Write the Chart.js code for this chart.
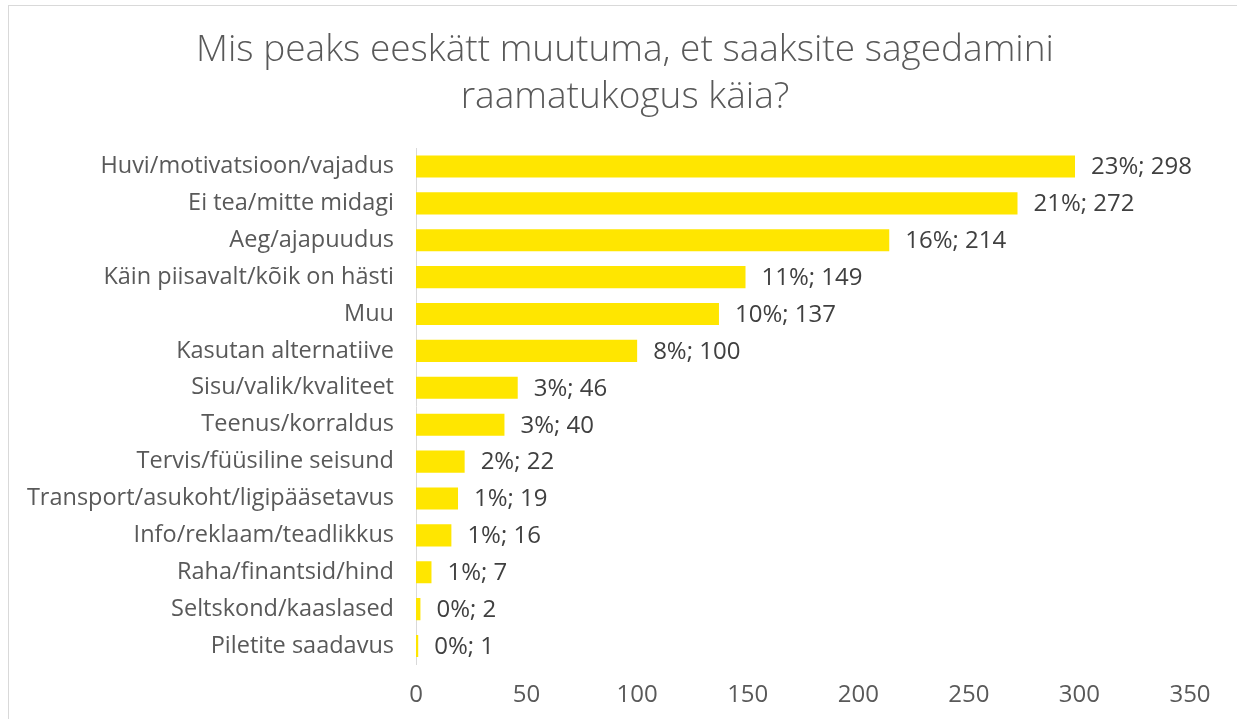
<!DOCTYPE html>
<html>
<head>
<meta charset="utf-8">
<script src="https://cdn.jsdelivr.net/npm/chart.js@4"></script>
<style>
  html, body { margin: 0; padding: 0; background: #fff; overflow: hidden; }
  #frame { position: absolute; left: 8px; top: 5px; width: 1250px; height: 730px; border: 1px solid #d9d9d9; box-sizing: border-box; }
  #wrap { position: absolute; left: 0; top: 0; width: 1237px; height: 719px; }
</style>
</head>
<body>
<div id="frame"></div>
<div id="wrap"><canvas id="c" width="1237" height="719"></canvas></div>
<script>
const titleLines = ["Mis peaks eeskätt muutuma, et saaksite sagedamini", "raamatukogus käia?"];
const categories = [
  "Huvi/motivatsioon/vajadus",
  "Ei tea/mitte midagi",
  "Aeg/ajapuudus",
  "Käin piisavalt/kõik on hästi",
  "Muu",
  "Kasutan alternatiive",
  "Sisu/valik/kvaliteet",
  "Teenus/korraldus",
  "Tervis/füüsiline seisund",
  "Transport/asukoht/ligipääsetavus",
  "Info/reklaam/teadlikkus",
  "Raha/finantsid/hind",
  "Seltskond/kaaslased",
  "Piletite saadavus"
];
const counts = [298, 272, 214, 149, 137, 100, 46, 40, 22, 19, 16, 7, 2, 1];
const percents = ["23%", "21%", "16%", "11%", "10%", "8%", "3%", "3%", "2%", "1%", "1%", "1%", "0%", "0%"];
const xTicks = [0, 50, 100, 150, 200, 250, 300, 350];

const FONT = "'Open Sans', 'Liberation Sans', sans-serif";

const titleDraw = {
  id: 'titleDraw',
  afterDraw(chart) {
    const ctx = chart.ctx;
    ctx.save();
    ctx.font = "300 37px " + FONT;
    ctx.fillStyle = "#595959";
    ctx.textAlign = "center";
    ctx.textBaseline = "middle";
    ctx.fillText(titleLines[0], 625, 50);
    ctx.fillText(titleLines[1], 625, 97);
    ctx.restore();
  }
};

const valueLabels = {
  id: 'valueLabels',
  afterDatasetsDraw(chart) {
    const ctx = chart.ctx;
    const meta = chart.getDatasetMeta(0);
    ctx.save();
    ctx.font = "24px " + FONT;
    ctx.fillStyle = "#404040";
    ctx.textAlign = "left";
    ctx.textBaseline = "middle";
    meta.data.forEach((bar, i) => {
      ctx.fillText(percents[i] + "; " + counts[i], bar.x + 16, bar.y + 1);
    });
    ctx.restore();
  }
};

new Chart(document.getElementById('c'), {
  type: 'bar',
  data: {
    labels: categories,
    datasets: [{
      data: counts,
      backgroundColor: '#FFE600',
      borderWidth: 0,
      categoryPercentage: 1.0,
      barPercentage: 0.6
    }]
  },
  options: {
    indexAxis: 'y',
    responsive: false,
    animation: false,
    devicePixelRatio: 1,
    layout: { padding: { left: 0, right: 47, top: 148, bottom: 0 } },
    plugins: {
      legend: { display: false },
      tooltip: { enabled: false },
      title: { display: false }
    },
    scales: {
      x: {
        min: 0,
        max: 350,
        afterBuildTicks(scale) { scale.ticks = xTicks.map(v => ({ value: v })); },
        afterFit(scale) { scale.height = 54.5; },
        grid: { display: false, drawTicks: false },
        border: { display: false },
        ticks: { color: '#595959', font: { family: FONT, size: 24 }, padding: 16 }
      },
      y: {
        afterFit(scale) { scale.width = 416; },
        grid: { display: false, drawTicks: false },
        border: { display: true, color: '#d9d9d9', width: 1 },
        ticks: { color: '#595959', font: { family: FONT, size: 23.5 }, padding: 22 }
      }
    }
  },
  plugins: [valueLabels, titleDraw]
});
</script>
</body>
</html>
